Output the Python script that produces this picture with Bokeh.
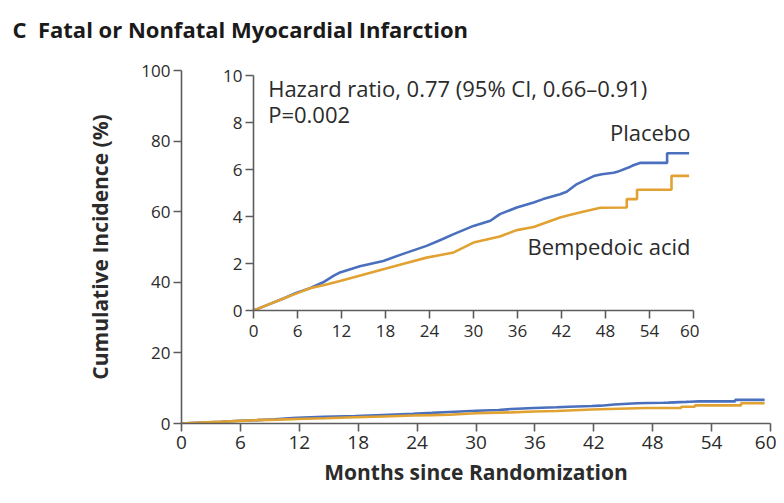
from bokeh.plotting import figure
from bokeh.models import Range1d, Label
from bokeh.layouts import column
from bokeh.embed import file_html
from bokeh.resources import INLINE

# ---------------- data ----------------
placebo_months = [0, 2.0, 4.0, 5.9, 7.7, 9.5, 10.9, 11.8, 14.5, 17.7, 20.5, 23.6, 25.5, 27.3,
                  30.0, 32.3, 33.6, 35.9, 38.2, 39.5, 41.8, 42.7, 44.1, 46.4, 47.5, 49.1,
                  49.6, 51.4, 51.8, 52.7, 56.4, 56.4, 59.4]
placebo_pct = [0, 0.25, 0.5, 0.76, 0.95, 1.2, 1.47, 1.62, 1.88, 2.11, 2.42, 2.75, 3.0, 3.25,
               3.6, 3.82, 4.1, 4.38, 4.6, 4.74, 4.95, 5.05, 5.38, 5.72, 5.8, 5.86,
               5.9, 6.12, 6.18, 6.28, 6.28, 6.69, 6.69]

bempedoic_months = [0, 2.0, 4.0, 5.9, 7.7, 9.8, 11.8, 14.7, 17.7, 20.6, 23.6, 25.5, 27.3,
                    30.0, 33.6, 35.9, 38.2, 41.8, 42.7, 44.5, 47.3, 50.9, 50.9, 52.3, 52.3,
                    57.0, 57.0, 59.4]
bempedoic_pct = [0, 0.25, 0.5, 0.73, 0.95, 1.1, 1.26, 1.5, 1.76, 2.0, 2.25, 2.36, 2.47,
                 2.89, 3.15, 3.42, 3.55, 3.96, 4.03, 4.17, 4.37, 4.38, 4.74, 4.74, 5.14,
                 5.14, 5.73, 5.73]

month_ticks = [0, 6, 12, 18, 24, 30, 36, 42, 48, 54, 60]
main_pct_ticks = [0, 20, 40, 60, 80, 100]
inset_pct_ticks = [0, 2, 4, 6, 8, 10]

# ---------------- styling ----------------
BLUE = "#4a70bd"
ORANGE = "#e1a232"
AXIS = "#5c5c5c"
TEXT = "#2b2b2b"
FONT = "Open Sans"

LEFT_BORDER = 181
RIGHT_BORDER = 6
TOP_BORDER = 90      # main figure is lifted, so its frame top sits at 70
LIFT = 20


def style_axes(fig):
    for ax in (fig.xaxis, fig.yaxis):
        ax.axis_line_color = AXIS
        ax.axis_line_width = 1.6
        ax.major_tick_line_color = AXIS
        ax.major_tick_line_width = 1.6
        ax.major_tick_in = 0
        ax.major_tick_out = 8
        ax.minor_tick_line_color = None
        ax.major_label_text_font = FONT
        ax.major_label_text_font_size = "17px"
        ax.major_label_text_color = TEXT
    fig.xgrid.visible = False
    fig.ygrid.visible = False
    fig.outline_line_color = None


# ---------------- main plot ----------------
p = figure(width=776, height=TOP_BORDER + 353 + 72, x_range=Range1d(0, 60), y_range=Range1d(0, 100),
           output_backend="svg", toolbar_location=None,
           min_border_left=LEFT_BORDER, min_border_right=RIGHT_BORDER,
           min_border_top=TOP_BORDER, min_border_bottom=72,
           margin=(-LIFT, 0, 0, 0),
           title="C\u00a0\u00a0Fatal or Nonfatal Myocardial Infarction")
p.title.text_font = FONT
p.title.text_font_style = "bold"
p.title.text_font_size = "22px"
p.title.text_color = "#1a1a1a"
p.title.align = "left"
p.title.offset = 12 - LEFT_BORDER
p.title.standoff = 53

style_axes(p)
p.xaxis.ticker = month_ticks
p.yaxis.ticker = main_pct_ticks
p.xaxis.major_label_text_font_size = "19px"
p.xaxis.major_label_standoff = 4
p.yaxis.major_label_standoff = 3

p.xaxis.axis_label = "Months since Randomization"
p.yaxis.axis_label = "Cumulative Incidence (%)"
for ax in (p.xaxis, p.yaxis):
    ax.axis_label_text_font = FONT
    ax.axis_label_text_font_style = "bold"
    ax.axis_label_text_font_size = "21px"
    ax.axis_label_text_color = TEXT
p.xaxis.axis_label_standoff = 6
p.yaxis.axis_label_standoff = 24

p.line(placebo_months, placebo_pct, line_color=BLUE, line_width=2.6)
p.line(bempedoic_months, bempedoic_pct, line_color=ORANGE, line_width=2.6)

# ---------------- inset ----------------
q = figure(width=LEFT_BORDER + 440 + RIGHT_BORDER, height=285,
           x_range=Range1d(0, 60), y_range=Range1d(0, 10),
           output_backend="svg", toolbar_location=None,
           min_border_left=LEFT_BORDER, min_border_right=RIGHT_BORDER,
           min_border_top=10, min_border_bottom=40,
           background_fill_color=None, border_fill_color=None,
           margin=(-430, 0, 0, 72))
style_axes(q)
q.xaxis.ticker = month_ticks
q.yaxis.ticker = inset_pct_ticks
q.xaxis.major_label_standoff = 6
q.yaxis.major_label_standoff = 3

q.line(placebo_months, placebo_pct, line_color=BLUE, line_width=2.6)
q.line(bempedoic_months, bempedoic_pct, line_color=ORANGE, line_width=2.6)

label_style = dict(text_font=FONT, text_font_size="22px", text_color=TEXT, text_baseline="middle")
q.add_layout(Label(x=2.0, y=9.45, text="Hazard ratio, 0.77 (95% CI, 0.66\u20130.91)", **label_style))
q.add_layout(Label(x=2.0, y=8.38, text="P=0.002", **label_style))
q.add_layout(Label(x=59.6, y=7.6, text="Placebo", text_align="right", **label_style))
q.add_layout(Label(x=59.6, y=2.75, text="Bempedoic acid", text_align="right", **label_style))

layout = column(p, q, spacing=0)
open("out.html", "w").write(file_html(layout, INLINE))
